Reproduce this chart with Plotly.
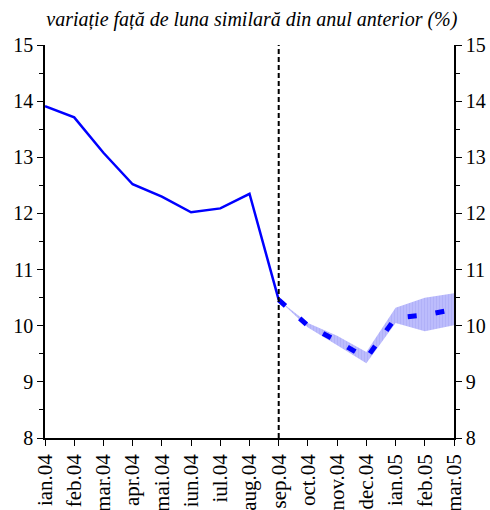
import plotly.graph_objects as go

# Month labels on the category axis
months = ["ian.04", "feb.04", "mar.04", "apr.04", "mai.04", "iun.04", "iul.04",
          "aug.04", "sep.04", "oct.04", "nov.04", "dec.04", "ian.05", "feb.05", "mar.05"]

# Observed annual rate (%), jan.04 - sep.04
actual = [13.91, 13.71, 13.08, 12.52, 12.30, 12.02, 12.09, 12.35, 10.46]

# Projection (%), sep.04 - mar.05
forecast = [10.46, 10.00, 9.73, 9.42, 10.14, 10.19, 10.29]

# Uncertainty band around the projection
band_low = [10.46, 9.97, 9.65, 9.33, 10.05, 9.90, 10.01]
band_high = [10.46, 10.05, 9.82, 9.53, 10.32, 10.50, 10.58]

x_all = list(range(len(months)))
x_act = x_all[:len(actual)]
x_fc = x_all[len(actual) - 1:]

serif = "Liberation Serif"

fig = go.Figure()

# Band: lower edge then upper edge filled to it
fig.add_trace(go.Scatter(x=x_fc, y=band_low, mode="lines",
                         line=dict(width=0, color="rgba(0,0,0,0)"),
                         hoverinfo="skip", showlegend=False))
fig.add_trace(go.Scatter(x=x_fc, y=band_high, mode="lines",
                         line=dict(width=0, color="rgba(0,0,0,0)"),
                         fill="tonexty", fillcolor="#b8b8fb",
                         fillpattern=dict(shape="|", fgcolor="#a6a6f4",
                                          bgcolor="#bcbcfc", size=3, solidity=0.35),
                         hoverinfo="skip", showlegend=False))

# Observed series
fig.add_trace(go.Scatter(x=x_act, y=actual, mode="lines",
                         line=dict(color="#0000ff", width=2.5),
                         showlegend=False))

# Projection
fig.add_trace(go.Scatter(x=x_fc, y=forecast, mode="lines",
                         line=dict(color="#0000ff", width=5, dash="9px,19px"),
                         showlegend=False))

# Secondary axis on the right (same scale)
fig.add_trace(go.Scatter(x=[0], y=[None], yaxis="y2", showlegend=False,
                         hoverinfo="skip"))

# Vertical separator at the last observed month
fig.add_shape(type="line", xref="x", yref="paper", x0=8, x1=8, y0=0, y1=1,
              line=dict(color="black", width=2, dash="5px,3px"))

yaxis_common = dict(
    range=[8, 15], dtick=1, tick0=8,
    showgrid=False, zeroline=False, automargin=False,
    showline=True, linecolor="black", linewidth=1.5,
    ticks="outside", ticklen=6, tickwidth=1.2, tickcolor="black",
    minor=dict(dtick=0.5, ticks="outside", ticklen=4, tickcolor="black", tickwidth=1),
    tickfont=dict(family=serif, size=20, color="black"),
)

fig.update_layout(
    width=490, height=510,
    margin=dict(l=45, r=36, t=45, b=72, autoexpand=False),
    paper_bgcolor="white", plot_bgcolor="white",
    font=dict(family=serif, color="black"),
    title=dict(text="<i>variație față de luna similară din anul anterior (%)</i>",
               x=0.514, xanchor="center", y=0.962, yanchor="middle",
               font=dict(family=serif, size=20, color="black")),
    xaxis=dict(range=[0, 14], tickmode="array", tickvals=x_all, ticktext=months,
               tickangle=-90, showgrid=False, zeroline=False, automargin=False,
               showline=True, linecolor="black", linewidth=1.5,
               ticks="outside", ticklen=6, tickwidth=1.2, tickcolor="black",
               tickfont=dict(family=serif, size=21, color="black")),
    yaxis=dict(**yaxis_common, side="left"),
    yaxis2=dict(**yaxis_common, side="right", overlaying="y", anchor="x"),
)

fig.write_html("out.html")
